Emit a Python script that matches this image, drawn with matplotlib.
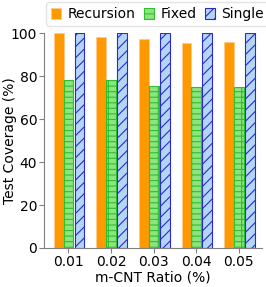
import numpy as np
import matplotlib
matplotlib.use('Agg')
import matplotlib.pyplot as plt

ratios = ['0.01', '0.02', '0.03', '0.04', '0.05']
recursion = [100, 98.4, 97.4, 95.7, 96.1]
fixed = [78.3, 78.4, 75.6, 75.2, 75.2]
single = [100, 100, 100, 100, 100]

plt.rcParams['hatch.linewidth'] = 0.8

fig = plt.figure(figsize=(2.66, 2.87), dpi=100)
ax = fig.add_axes([0.166, 0.136, 0.82, 0.748])

x = np.arange(len(ratios))
w = 0.23

ax.bar(x - w, recursion, w, color='#ff9900', edgecolor='#ffc890', linewidth=0.6, label='Recursion')
ax.bar(x, fixed, w, color='#8ee47e', edgecolor='#2ec02e', hatch='---|', linewidth=0.8, label='Fixed')
ax.bar(x + w + 0.03, single, w, color='#b4d6f6', edgecolor='#2a2ad0', hatch='///', linewidth=0.8, label='Single')

ax.set_xlim(-0.57, 4.55)
ax.set_ylim(0, 100)
ax.set_yticks([0, 20, 40, 60, 80, 100])
ax.set_xticks(x)
ax.set_xticklabels(ratios)
ax.tick_params(labelsize=10, color='#808080', length=3.5, pad=1.5)
ax.set_xlabel('m-CNT Ratio (%)', fontsize=10, labelpad=1)
ax.set_ylabel('Test Coverage (%)', fontsize=10)
ax.yaxis.set_label_coords(-0.125, 0.5)
for s in ['top', 'right']:
    ax.spines[s].set_visible(False)
for s in ['left', 'bottom']:
    ax.spines[s].set_color('#808080')

leg = ax.legend(loc='lower center', bbox_to_anchor=(0.52, 1.02), ncol=3, fontsize=10,
                handlelength=0.75, handleheight=0.75, handletextpad=0.45, columnspacing=0.6,
                borderpad=0.35, borderaxespad=0.2, frameon=True, fancybox=True)
leg.get_frame().set_edgecolor('#dddddd')

fig.savefig('out.png', dpi=100)
